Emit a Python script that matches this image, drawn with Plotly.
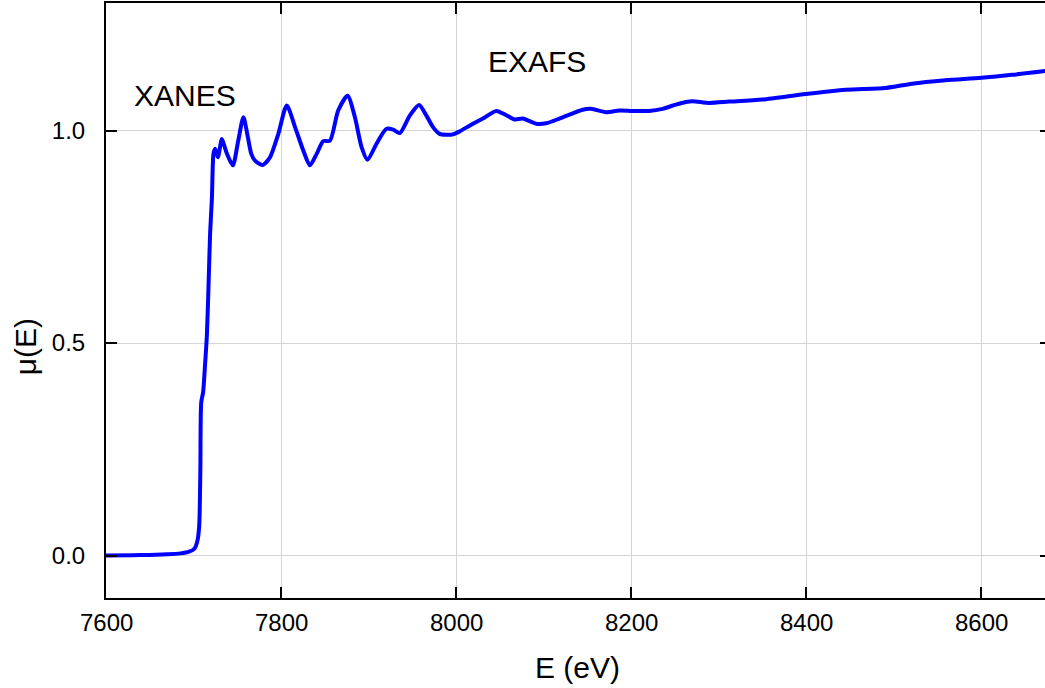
import plotly.graph_objects as go

energy = [7600, 7640, 7670, 7685, 7695, 7701, 7704.5, 7706.5, 7707.8, 7708.8,
          7711.0, 7713.2, 7715.3, 7717.2, 7719.0, 7721.0, 7722.8, 7724.7, 7727.8, 7732.4,
          7735.5, 7738.1, 7744.9, 7751, 7757.0, 7762, 7766, 7770.3, 7779.1, 7787.4,
          7796.9, 7806.5, 7816.0, 7825.4, 7833.0, 7840.7, 7848.2, 7855.8, 7865.3, 7876.0,
          7884.4, 7892.0, 7898.8, 7909.1, 7920.5, 7928.0, 7935.7, 7947.1, 7957.7, 7966.1,
          7973.6, 7981.3, 7989, 7996.4, 8004.1, 8019.2, 8030.6, 8045.9, 8057.3, 8066.8,
          8076.2, 8083.9, 8091.5, 8102.9, 8118.1, 8144.7, 8154.2, 8171.3, 8186.5, 8201.7,
          8220.7, 8235.9, 8251.1, 8262.5, 8270.1, 8289.1, 8311.9, 8349.9, 8399.4, 8445.0,
          8490.6, 8520.9, 8559.0, 8600, 8635, 8680]
mu = [0.0, 0.001, 0.003, 0.005, 0.009, 0.016, 0.035, 0.07, 0.2, 0.36,
      0.385, 0.45, 0.52, 0.64, 0.76, 0.84, 0.945, 0.957, 0.937, 0.980,
      0.962, 0.946, 0.918, 0.975, 1.031, 0.985, 0.945, 0.929, 0.919, 0.937,
      0.992, 1.059, 1.008, 0.953, 0.918, 0.945, 0.975, 0.976, 1.047, 1.082,
      1.031, 0.961, 0.931, 0.969, 1.004, 1.002, 0.994, 1.035, 1.060, 1.035,
      1.008, 0.992, 0.990, 0.991, 0.998, 1.016, 1.028, 1.046, 1.036, 1.026,
      1.028, 1.022, 1.016, 1.017, 1.028, 1.049, 1.051, 1.043, 1.047, 1.046,
      1.046, 1.051, 1.061, 1.067, 1.069, 1.065, 1.068, 1.073, 1.086, 1.096,
      1.100, 1.110, 1.118, 1.124, 1.131, 1.142]

x_ticks = [7600, 7800, 8000, 8200, 8400, 8600]
y_ticks = [0.0, 0.5, 1.0]
region_labels = ["XANES", "EXAFS"]
region_x = [7690.6, 8093]
region_y = [1.0835, 1.162]

FONT = "Liberation Sans, Arial, sans-serif"
# plot area in pixels: x 106..1053, y 3..598
PLOT_W, PLOT_H = 947, 595

fig = go.Figure()
fig.add_trace(go.Scatter(x=energy, y=mu, mode="lines",
                         line=dict(color="#0000FF", width=4, shape="spline", smoothing=0.7),
                         showlegend=False, hoverinfo="skip"))

for txt, xx, yy in zip(region_labels, region_x, region_y):
    fig.add_annotation(x=xx, y=yy, xref="x", yref="y", text=txt, showarrow=False,
                       xanchor="center", yanchor="middle",
                       font=dict(family=FONT, size=30, color="black"))

# x tick labels (placed below the axis)
for v in x_ticks:
    fig.add_annotation(x=v, y=-(622 - 598) / PLOT_H, xref="x", yref="paper", text=str(v),
                       showarrow=False, xanchor="center", yanchor="middle",
                       font=dict(family=FONT, size=24, color="black"))

fig.add_annotation(x=8138.6, y=-(667.5 - 598) / PLOT_H, xref="x", yref="paper", text="E (eV)",
                   showarrow=False, xanchor="center", yanchor="middle",
                   font=dict(family=FONT, size=30, color="black"))
fig.add_annotation(x=(26 - 106) / PLOT_W, y=(598 - 347) / PLOT_H, xref="paper", yref="paper",
                   text="μ(E)", showarrow=False, xanchor="center", yanchor="middle",
                   textangle=-90, font=dict(family=FONT, size=30, color="black"))

axis_common = dict(showline=True, linewidth=2, linecolor="black", mirror="ticks",
                   ticks="inside", ticklen=11, tickwidth=2, tickcolor="black",
                   showgrid=True, gridcolor="#d4d4d4", gridwidth=1, zeroline=False,
                   tickfont=dict(family=FONT, size=24, color="black"))

fig.update_xaxes(range=[7600, 8679.7], tickvals=x_ticks, showticklabels=False, **axis_common)
fig.update_yaxes(range=[-0.1, 1.3], tickvals=y_ticks,
                 ticktext=[f"{v:.1f}" for v in y_ticks], ticklabelstandoff=14, **axis_common)

fig.update_layout(width=1054, height=688, margin=dict(l=106, r=1, t=3, b=90),
                  paper_bgcolor="white", plot_bgcolor="white",
                  font=dict(family=FONT))

fig.write_html("out.html", config={"displayModeBar": False},
               post_script="document.body.style.margin='0';document.body.style.overflow='hidden';")
